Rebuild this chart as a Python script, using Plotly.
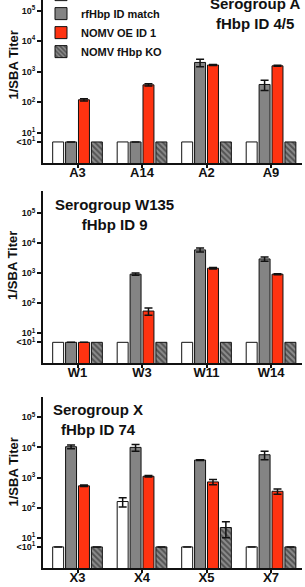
import plotly.graph_objects as go

# ---- data ----
series_names = ["Pre-immune", "rfHbp ID match", "NOMV OE ID 1", "NOMV fHbp KO"]

cats_A = ["A3", "A14", "A2", "A9"]
A_pre = [5, 5, 5, 5]
A_rf = [5, 5, 2000, 380]
A_rf_err = [0, 0, 550, 140]
A_oe = [120, 370, 1650, 1550]
A_oe_err = [10, 30, 50, 60]
A_ko = [5, 5, 5, 5]

cats_W = ["W1", "W3", "W11", "W14"]
W_pre = [5, 5, 5, 5]
W_rf = [5, 930, 6000, 3000]
W_rf_err = [0, 80, 900, 500]
W_oe = [5, 55, 1470, 930]
W_oe_err = [0, 15, 80, 40]
W_ko = [5, 5, 5, 5]

cats_X = ["X3", "X4", "X5", "X7"]
X_pre = [5, 160, 5, 5]
X_pre_err = [0, 55, 0, 0]
X_rf = [10500, 10000, 3800, 5700]
X_rf_err = [1500, 2500, 100, 1800]
X_oe = [530, 1100, 715, 350]
X_oe_err = [30, 60, 140, 70]
X_ko = [5, 5, 22, 5]
X_ko_err = [0, 0, 12, 0]

tick_vals = [5, 10, 100, 1000, 10000, 100000]
tick_text = ["<10<sup>1</sup>", "10<sup>1</sup>", "10<sup>2</sup>", "10<sup>3</sup>",
             "10<sup>4</sup>", "10<sup>5</sup>"]

panels = [
    dict(cats=cats_A, vals=[A_pre, A_rf, A_oe, A_ko],
         errs=[None, A_rf_err, A_oe_err, None],
         title="Serogroup A<br>fHbp ID 4/5"),
    dict(cats=cats_W, vals=[W_pre, W_rf, W_oe, W_ko],
         errs=[None, W_rf_err, W_oe_err, None],
         title="Serogroup W135<br>fHbp ID 9"),
    dict(cats=cats_X, vals=[X_pre, X_rf, X_oe, X_ko],
         errs=[X_pre_err, X_rf_err, X_oe_err, X_ko_err],
         title="Serogroup X<br>fHbp ID 74"),
]

# ---- style ----
FONT = "Liberation Sans, Arial, sans-serif"
W, H = 305, 587
ML, MR, MT, MB = 43, 3, 0, 19
PH = H - MT - MB
PW = W - ML - MR

def py(pix):
    return 1 - (pix - MT) / PH

def px(pix):
    return (pix - ML) / PW

def clamp(v):
    return min(1.0, max(0.0, v))

domains = [[clamp(py(163.3)), 1.0], [clamp(py(363.3)), clamp(py(191))],
           [0.0, clamp(py(396.7))]]
yranges = [[0, 5.345], [0, 5.74], [0, 5.68]]

colors = ["#ffffff", "#848484", "#ff3311", "#6e6e6e"]

fig = go.Figure()
for p_i, p in enumerate(panels):
    ax = "" if p_i == 0 else str(p_i + 1)
    for s_i in range(4):
        marker = dict(color=colors[s_i], line=dict(color="#111111", width=1))
        if s_i == 3:
            marker["pattern"] = dict(shape="\\", fgcolor="#1a1a1a", bgcolor="#8c8c8c",
                                     size=4, solidity=0.5)
        err = p["errs"][s_i]
        fig.add_trace(go.Bar(
            x=p["cats"], y=p["vals"][s_i], name=series_names[s_i],
            marker=marker, xaxis="x" + ax, yaxis="y" + ax,
            legendgroup=series_names[s_i], showlegend=(p_i == 0),
            error_y=dict(type="data", array=err, color="#111111", thickness=1.5,
                         width=4, visible=err is not None),
        ))

layout = dict(
    width=W, height=H,
    margin=dict(l=ML, r=MR, t=MT, b=MB, autoexpand=False),
    paper_bgcolor="white", plot_bgcolor="white",
    barmode="group", bargap=0.2, bargroupgap=0.15,
    font=dict(family=FONT, color="#111111"),
    showlegend=True,
    legend=dict(x=px(41), y=1.035, xanchor="left", yanchor="top",
                bgcolor="rgba(0,0,0,0)", font=dict(size=11, weight="bold"),
                traceorder="normal", itemwidth=30),
)
annotations = []
for p_i in range(3):
    ax = "" if p_i == 0 else str(p_i + 1)
    layout["xaxis" + ax] = dict(
        domain=[0, 1], anchor="y" + ax, type="category",
        range=[-0.535, 3.48], showline=True, linecolor="#111111", linewidth=2,
        ticks="outside", ticklen=3, tickwidth=1.5, tickcolor="#111111",
        tickfont=dict(size=13, weight="bold"), showgrid=False, zeroline=False,
        ticklabelstandoff=-7, fixedrange=True,
    )
    layout["yaxis" + ax] = dict(
        domain=domains[p_i], anchor="x" + ax, type="log", range=yranges[p_i],
        showline=True, linecolor="#111111", linewidth=2,
        ticks="outside", ticklen=4, tickwidth=1.5, tickcolor="#111111",
        tickvals=tick_vals, ticktext=tick_text,
        tickfont=dict(size=9, weight="bold"), showgrid=False, zeroline=False,
        fixedrange=True,
    )

# panel titles
title_pos = [(255, 13), (114, 214), (98, 419)]
ytitle_pos = [65, 265.5, 472]
for p_i, p in enumerate(panels):
    tx, ty = title_pos[p_i]
    annotations.append(dict(
        text="<b>" + p["title"] + "</b>", xref="paper", yref="paper",
        x=px(tx), y=py(ty), xanchor="center", yanchor="middle", showarrow=False,
        font=dict(size=15, family=FONT), align="center",
    ))
    annotations.append(dict(
        text="<b>1/SBA Titer</b>", xref="paper", yref="paper",
        x=px(12.5), y=py(ytitle_pos[p_i]), xanchor="center", yanchor="middle",
        showarrow=False, textangle=-90, font=dict(size=13, family=FONT),
    ))
layout["annotations"] = annotations
fig.update_layout(**layout)
fig.write_html("out.html")
